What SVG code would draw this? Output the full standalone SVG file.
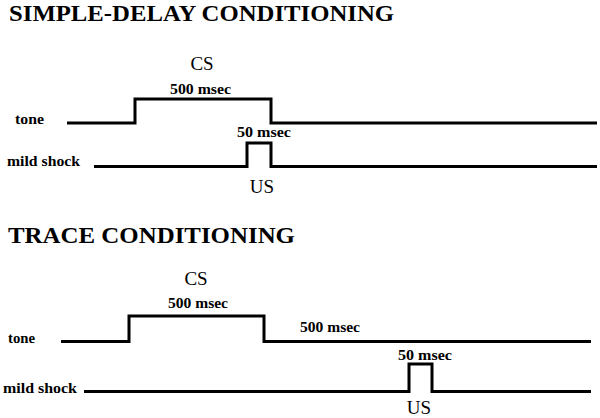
<svg xmlns="http://www.w3.org/2000/svg" width="600" height="418" viewBox="0 0 600 418">
<style>
.title{font-family:"Liberation Serif",serif;font-weight:bold;font-size:23px;fill:#000}
.big{font-family:"Liberation Serif",serif;font-size:19px;fill:#000}
.lab{font-family:"Liberation Serif",serif;font-weight:bold;font-size:15px;fill:#000}
.sig{fill:none;stroke:#000;stroke-width:3;stroke-linejoin:miter}
</style>
<rect width="600" height="418" fill="#fff"/>
<text class="title" x="9" y="21" textLength="385" lengthAdjust="spacingAndGlyphs">SIMPLE-DELAY CONDITIONING</text>
<text class="title" x="8" y="243" textLength="287" lengthAdjust="spacingAndGlyphs">TRACE CONDITIONING</text>
<g id="connectors">
<path class="sig" d="M67,123 H135 V99 H271 V123 H597"/>
<path class="sig" d="M94,166.5 H247 V143 H271 V166.5 H597"/>
<path class="sig" d="M61,341.5 H129 V316 H264 V341.5 H591"/>
<path class="sig" d="M84,391.5 H409 V364 H432 V391.5 H591"/>
</g>
<g id="delay-tone">
<text class="lab" x="15" y="124" textLength="29" lengthAdjust="spacingAndGlyphs">tone</text>
<text class="big" x="202" y="70" text-anchor="middle">CS</text>
<text class="lab" x="170" y="94" textLength="61" lengthAdjust="spacingAndGlyphs">500 msec</text>
</g>
<g id="delay-shock">
<text class="lab" x="7" y="166" textLength="73" lengthAdjust="spacingAndGlyphs">mild shock</text>
<text class="lab" x="237" y="137" textLength="54" lengthAdjust="spacingAndGlyphs">50 msec</text>
<text class="big" x="262" y="193" text-anchor="middle">US</text>
</g>
<g id="trace-tone">
<text class="lab" x="8" y="343" textLength="27" lengthAdjust="spacingAndGlyphs">tone</text>
<text class="big" x="196" y="285" text-anchor="middle">CS</text>
<text class="lab" x="168" y="308" textLength="60" lengthAdjust="spacingAndGlyphs">500 msec</text>
<text class="lab" x="300" y="332" textLength="60" lengthAdjust="spacingAndGlyphs">500 msec</text>
</g>
<g id="trace-shock">
<text class="lab" x="3" y="393" textLength="74" lengthAdjust="spacingAndGlyphs">mild shock</text>
<text class="lab" x="398" y="360" textLength="54" lengthAdjust="spacingAndGlyphs">50 msec</text>
<text class="big" x="419" y="414" text-anchor="middle">US</text>
</g>
</svg>
